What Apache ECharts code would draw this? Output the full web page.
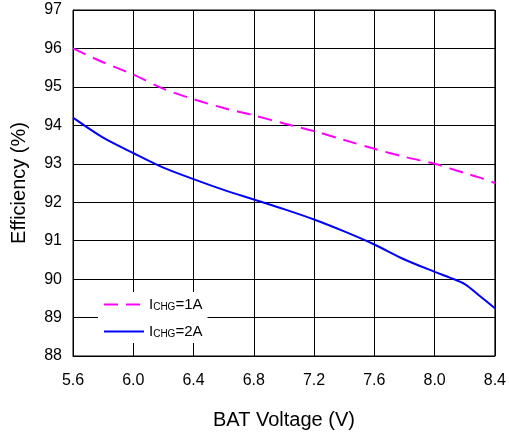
<!DOCTYPE html>
<html>
<head>
<meta charset="utf-8">
<script src="https://cdn.jsdelivr.net/npm/echarts@6/dist/echarts.min.js"></script>
<style>
  html, body { margin: 0; padding: 0; background: #fff; }
  #chart { width: 509px; height: 436px; }
</style>
</head>
<body>
<div id="chart"></div>
<script>
// Battery voltage (V) sample points
const batVoltage = [5.6, 5.8, 6.0, 6.2, 6.4, 6.6, 6.8, 7.0, 7.2, 7.4, 7.6, 7.8, 8.0, 8.1, 8.2, 8.3, 8.4];
// Efficiency (%) at ICHG = 1A
const eff1A = [96.0, 95.64, 95.32, 94.95, 94.68, 94.45, 94.26, 94.05, 93.85, 93.62, 93.39, 93.18, 93.0, 92.88, 92.76, 92.64, 92.5];
// Efficiency (%) at ICHG = 2A
const eff2A = [94.2, 93.68, 93.28, 92.9, 92.6, 92.32, 92.07, 91.82, 91.55, 91.24, 90.9, 90.51, 90.19, 90.04, 89.87, 89.56, 89.24];

const xTicks = [5.6, 6.0, 6.4, 6.8, 7.2, 7.6, 8.0, 8.4];
const yTicks = [88, 89, 90, 91, 92, 93, 94, 95, 96, 97];

const seriesNames = ['ICHG=1A', 'ICHG=2A'];
const seriesColors = ['#ff00ff', '#0000ff'];

const pairs = ys => batVoltage.map((v, i) => [v, ys[i]]);

const chart = echarts.init(document.getElementById('chart'), null, { renderer: 'canvas' });
const FONT = 'Liberation Sans, Arial, sans-serif';

chart.setOption({
  animation: false,
  backgroundColor: '#fff',
  grid: {
    left: 73, right: 12, top: 10, bottom: 80,
    show: true, borderColor: '#000', borderWidth: 1
  },
  xAxis: {
    type: 'value',
    min: xTicks[0],
    max: xTicks[xTicks.length - 1],
    interval: 0.4,
    name: 'BAT Voltage (V)',
    nameLocation: 'middle',
    nameGap: 54,
    nameTextStyle: { fontFamily: FONT, fontSize: 20, color: '#000' },
    axisLine: { lineStyle: { color: '#000', width: 1 } },
    axisTick: { show: false },
    axisLabel: {
      fontFamily: FONT, fontSize: 16, color: '#000', margin: 17,
      formatter: v => v.toFixed(1)
    },
    splitLine: { show: true, lineStyle: { color: '#000', width: 1 } }
  },
  yAxis: {
    type: 'value',
    min: yTicks[0],
    max: yTicks[yTicks.length - 1],
    interval: 1,
    name: 'Efficiency (%)',
    nameLocation: 'middle',
    nameGap: 44,
    nameTextStyle: { fontFamily: FONT, fontSize: 20, color: '#000' },
    axisLine: { show: true, lineStyle: { color: '#000', width: 1 } },
    axisTick: { show: false },
    axisLabel: { fontFamily: FONT, fontSize: 16, color: '#000', margin: 11 },
    splitLine: { show: true, lineStyle: { color: '#000', width: 1 } }
  },
  legend: {
    orient: 'vertical',
    left: 98,
    top: 292,
    padding: [5, 5, 4, 5],
    backgroundColor: '#fff',
    itemWidth: 40,
    itemHeight: 14,
    itemGap: 12,
    data: seriesNames,
    // line-only legend keys: hide the marker drawn on top of the line
    itemStyle: { opacity: 0, borderWidth: 0 },
    lineStyle: { width: 2 },
    formatter: name => {
      const rest = name.slice(4);
      return '{m|I}{s|CHG}{m|' + rest + '}';
    },
    textStyle: {
      fontFamily: FONT,
      color: '#000',
      rich: {
        m: { fontFamily: FONT, fontSize: 15, color: '#000' },
        s: { fontFamily: FONT, fontSize: 10, color: '#000', verticalAlign: 'bottom' }
      }
    }
  },
  series: [
    {
      name: seriesNames[0],
      type: 'line',
      data: pairs(eff1A),
      smooth: 0.3,
      symbol: 'none',
      color: seriesColors[0],
      lineStyle: { color: seriesColors[0], width: 2, type: [14, 8] }
    },
    {
      name: seriesNames[1],
      type: 'line',
      data: pairs(eff2A),
      smooth: 0.3,
      symbol: 'none',
      color: seriesColors[1],
      lineStyle: { color: seriesColors[1], width: 2, type: 'solid' }
    }
  ]
});
</script>
</body>
</html>
